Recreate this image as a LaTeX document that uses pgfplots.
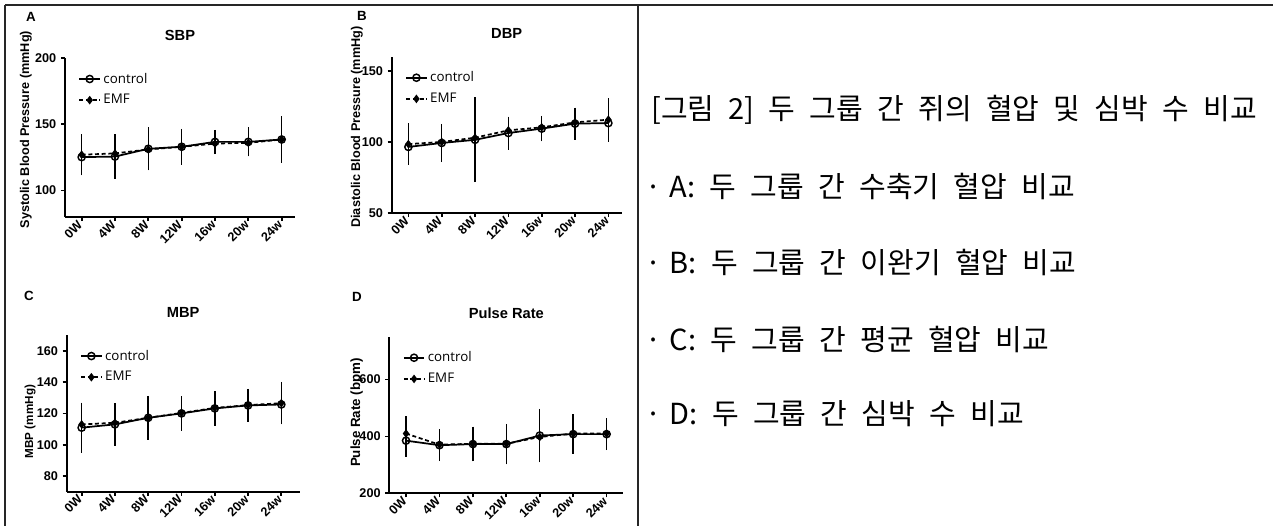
\documentclass[border=0pt]{standalone}
\usepackage{fontspec}
\setmainfont{Liberation Sans}
\newfontfamily\legfont{Open Sans}
\newfontfamily\kr[WordSpace=2.2]{Noto Sans CJK KR}
\usepackage{pgfplots}
\pgfplotsset{compat=1.18}

\pgfplotsset{
  panel/.style={
    scale only axis, axis lines=left,
    axis line style={line width=1.3pt, -},
    xmin=-0.5, xmax=6.4,
    xtick={0,...,6}, xticklabels={0W,4W,8W,12W,16w,20w,24w},
    tick align=outside, major tick length=3pt,
    tick style={line width=1.3pt, black},
    x tick label style={rotate=45, anchor=east, inner sep=1.5pt,
      font=\bfseries\fontsize{9.5}{11}\selectfont},
    y tick label style={font=\bfseries\fontsize{9.5}{11}\selectfont},
    /pgf/number format/assume math mode=true,
    title style={at={(0.5,1)}, anchor=center, yshift=11.25pt,
      font=\bfseries\fontsize{11}{13}\selectfont},
    legend style={draw=none, fill=none, at={(0,1)}, anchor=north west,
      xshift=7pt, yshift=-7pt, row sep=3pt,
      font=\legfont\fontsize{10}{12}\selectfont},
    legend cell align=left,
  },
  leg/.style={legend image code/.code={\draw[mark repeat=2,mark phase=2]
      plot coordinates {(0cm,0cm) (0.27cm,0cm) (0.54cm,0cm)};}},
  ctrl/.style={leg, black, line width=1.3pt, mark=o, mark size=2.7pt,
    mark options={solid, line width=1.1pt},
    error bars/.cd, y dir=both, y explicit,
    error bar style={solid, line width=1.1pt, black},
    error mark options={solid, line width=1.1pt, mark size=3pt, black}},
  emf/.style={leg, black, line width=1.3pt, dash pattern=on 3pt off 2pt,
    mark=diamond*, mark size=2.2pt, mark options={solid},
    error bars/.cd, y dir=both, y explicit,
    error bar style={solid, line width=1.1pt, black},
    error mark options={solid, line width=1.1pt, mark size=3pt, black}},
}

\newcommand{\bul}{\makebox[4pt][c]{·}\hspace{10pt}}

\begin{document}
\begin{tikzpicture}
\useasboundingbox (0,0) rectangle (954.75pt,394.5pt);

% table frame
\draw[black!85, line width=1.1pt] (3.75pt,390.75pt) -- (954.75pt,390.75pt);
\draw[black!85, line width=1.1pt] (3.75pt,390.75pt) -- (3.75pt,0pt);
\draw[black!85, line width=1.1pt] (478.5pt,390.75pt) -- (478.5pt,0pt);

% panel letters
\node[font=\bfseries\fontsize{10}{12}\selectfont] at (23.25pt,382.1pt) {A};
\node[font=\bfseries\fontsize{10}{12}\selectfont] at (271.5pt,382.5pt) {B};
\node[font=\bfseries\fontsize{10}{12}\selectfont] at (21.75pt,172.9pt) {C};
\node[font=\bfseries\fontsize{10}{12}\selectfont] at (267.75pt,171.75pt) {D};

% A: SBP
\begin{axis}[panel, at={(48.75pt,231.75pt)}, anchor=south west,
  width=172.5pt, height=119.25pt,
  ymin=80, ymax=200, ytick={100,150,200},
  title={SBP},
  ylabel={Systolic Blood Pressure (mmHg)},
  ylabel style={at={(axis description cs:-0.17,0.55)}, anchor=center,
    font=\bfseries\fontsize{9.5}{11}\selectfont}]
\addplot[ctrl] coordinates {
  (0,125.2) +- (0,7) (1,125.6) +- (0,13.7) (2,131.5) +- (0,13.3)
  (3,133) +- (0,10.5) (4,136.7) +- (0,6) (5,136.7) +- (0,8)
  (6,138.5) +- (0,14.5)};
\addlegendentry{control}
\addplot[emf] coordinates {
  (0,127) +- (0,12.5) (1,128) +- (0,10.5) (2,131) +- (0,8.5)
  (3,133) +- (0,10) (4,135.4) +- (0,5) (5,136) +- (0,7)
  (6,138.5) +- (0,14)};
\addlegendentry{EMF}
\end{axis}

% B: DBP
\begin{axis}[panel, at={(293.78pt,234.75pt)}, anchor=south west,
  width=172.5pt, height=117.2pt,
  ymin=50, ymax=160, ytick={50,100,150},
  title={DBP},
  ylabel={Diastolic Blood Pressure (mmHg)},
  ylabel style={at={(axis description cs:-0.151,0.55)}, anchor=center,
    font=\bfseries\fontsize{9.5}{11}\selectfont}]
\addplot[ctrl] coordinates {
  (0,96.5) +- (0,7) (1,99.3) +- (0,10.7) (2,101.5) +- (0,27)
  (3,106.3) +- (0,8.8) (4,109.4) +- (0,6.2) (5,112.9) +- (0,8.4)
  (6,113.3) +- (0,10.5)};
\addlegendentry{control}
\addplot[emf] coordinates {
  (0,98.5) +- (0,11.7) (1,100) +- (0,8) (2,103) +- (0,10.5)
  (3,108.2) +- (0,6.5) (4,110.3) +- (0,3.5) (5,113.8) +- (0,5.2)
  (6,115.7) +- (0,12.3)};
\addlegendentry{EMF}
\end{axis}

% C: MBP
\begin{axis}[panel, at={(50pt,25.7pt)}, anchor=south west,
  width=174.75pt, height=117.5pt,
  xmin=-0.45, xmax=6.55,
  ymin=70, ymax=170, ytick={80,100,...,160},
  title={MBP},
  ylabel={MBP (mmHg)},
  ylabel style={at={(axis description cs:-0.157,0.448)}, anchor=center,
    font=\bfseries\fontsize{8.75}{10}\selectfont}]
\addplot[ctrl] coordinates {
  (0,110.9) +- (0,13.5) (1,113) +- (0,11) (2,117.2) +- (0,11.5)
  (3,120) +- (0,8.5) (4,123.2) +- (0,8.5) (5,125.1) +- (0,8)
  (6,125.7) +- (0,9)};
\addlegendentry{control}
\addplot[emf] coordinates {
  (0,113) +- (0,5.8) (1,114) +- (0,10) (2,117.2) +- (0,11)
  (3,120.3) +- (0,7.5) (4,123.5) +- (0,6.5) (5,125.3) +- (0,7.5)
  (6,126.5) +- (0,11)};
\addlegendentry{EMF}
\end{axis}

% D: Pulse Rate
\begin{axis}[panel, at={(292pt,24.5pt)}, anchor=south west,
  width=175.5pt, height=117.45pt,
  xmin=-0.5, xmax=6.5,
  ymin=200, ymax=750, ytick={200,400,600},
  title={Pulse Rate},
  ylabel={Pulse Rate (bpm)},
  ylabel style={at={(axis description cs:-0.14,0.516)}, anchor=center,
    font=\bfseries\fontsize{10}{12}\selectfont}]
\addplot[ctrl] coordinates {
  (0,385) +- (0,43) (1,369) +- (0,42) (2,373) +- (0,47)
  (3,373) +- (0,57) (4,403) +- (0,80) (5,408) +- (0,55)
  (6,408) +- (0,42)};
\addlegendentry{control}
\addplot[emf] coordinates {
  (0,410) +- (0,46) (1,371) +- (0,38) (2,374) +- (0,42)
  (3,374) +- (0,50) (4,398) +- (0,40) (5,410) +- (0,34)
  (6,410) +- (0,36)};
\addlegendentry{EMF}
\end{axis}

% caption text
\begin{scope}[every node/.style={anchor=west, inner sep=0pt,
    font=\kr\fontsize{21.75}{26}\selectfont}]
\node at (488.25pt,312pt) {[그림 2] 두 그룹 간 쥐의 혈압 및 심박 수 비교};
\node at (488.25pt,255pt) {\bul A: 두 그룹 간 수축기 혈압 비교};
\node at (488.25pt,198pt) {\bul B: 두 그룹 간 이완기 혈압 비교};
\node at (488.25pt,140.25pt) {\bul C: 두 그룹 간 평균 혈압 비교};
\node at (488.25pt,84pt) {\bul D: 두 그룹 간 심박 수 비교};
\end{scope}
\end{tikzpicture}
\end{document}
